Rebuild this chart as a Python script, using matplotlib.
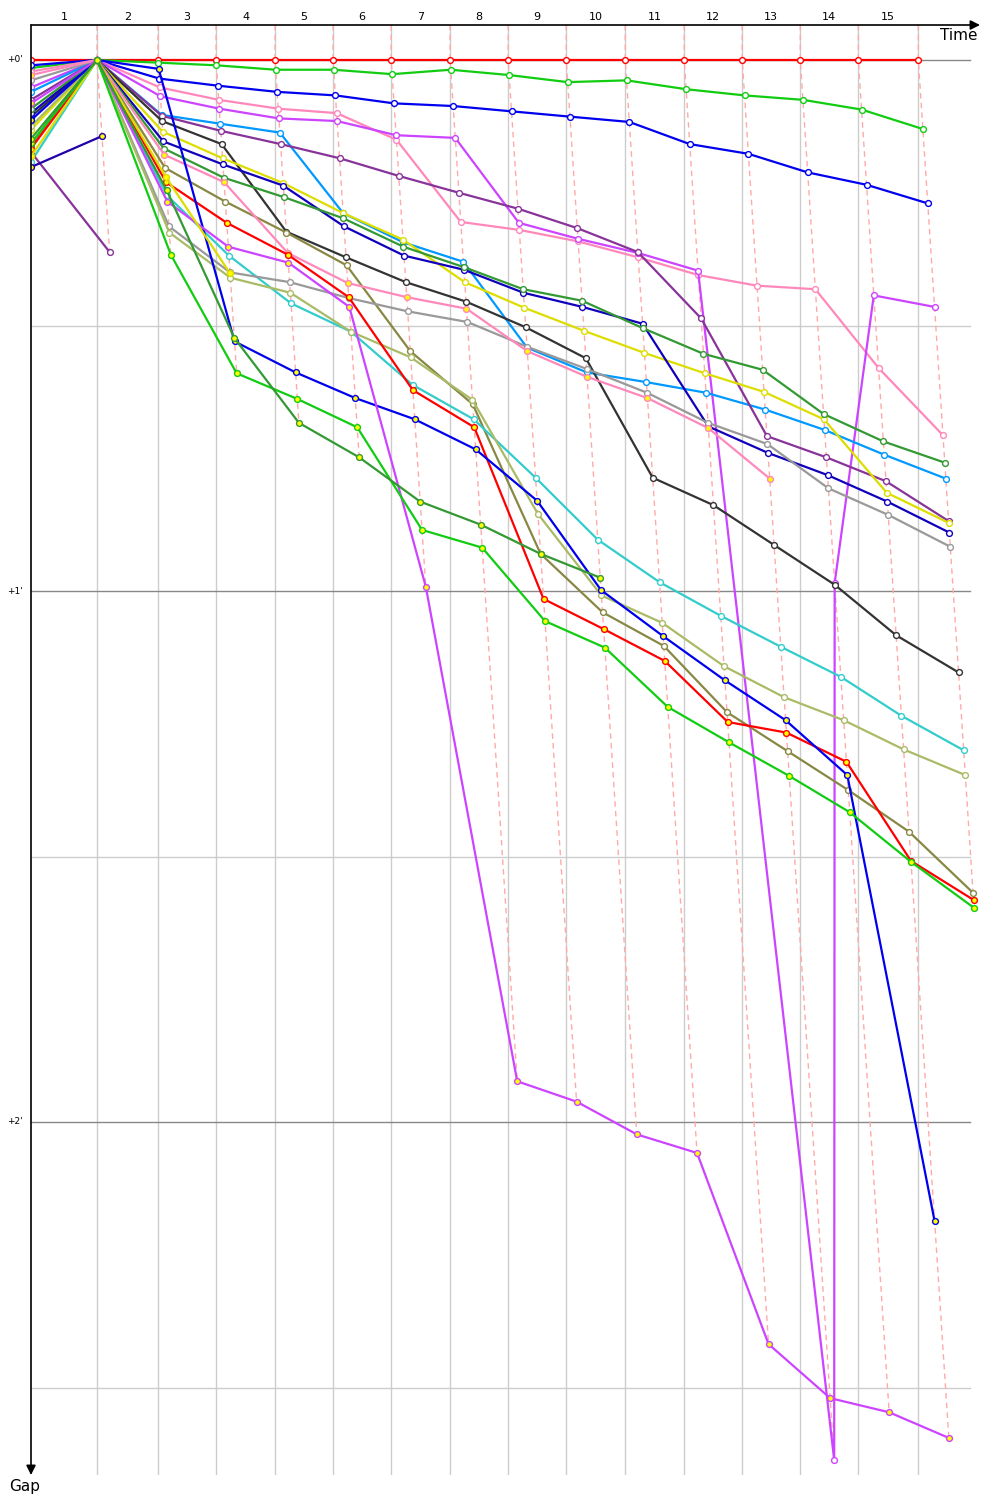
import numpy as np
import matplotlib.pyplot as plt
from matplotlib.transforms import blended_transform_factory

# leader lap times in seconds (laps 1..15)
lap_times = [113.5, 105.0, 99.8, 101.5, 99.8, 99.9, 101.4, 99.8, 99.9, 101.5, 101.4, 99.8, 99.9, 99.8, 103.2]
lap_labels = [str(i) for i in range(1, 16)]
gap_ticks = [0, 60, 120]
gap_tick_labels = ["+0'", "+1'", "+2'"]

# gap to the leader (s): start grid, then end of each lap
gap_red = [0.0] * 16
gap_green = [0.9, 0, 0.3, 0.6, 1.1, 1.1, 1.6, 1.1, 1.7, 2.5, 2.3, 3.3, 4.0, 4.5, 5.6, 7.8]
gap_blue = [0.6, 0, 2.1, 2.9, 3.6, 4.0, 4.9, 5.2, 5.8, 6.4, 7.0, 9.5, 10.6, 12.7, 14.1, 16.2]
gap_pink = [1.3, 0, 3.1, 4.5, 5.5, 6.0, 9.0, 18.3, 19.2, 20.5, 22.3, 24.3, 25.5, 25.9, 34.8, 42.4]
gap_violet = [3.1, 0, 4.1, 5.5, 6.6, 6.9, 8.5, 8.8, 18.4, 20.2, 21.8, 23.8, 158.2, 59.1, 26.6, 27.9]
gap_skyblue = [3.6, 0, 6.2, 7.2, 8.2, 17.3, 20.6, 22.8, 32.5, 35.3, 36.4, 37.6, 39.5, 41.8, 44.6, 47.3]
gap_purple = [4.5, 0, 6.3, 8.0, 9.5, 11.1, 13.1, 15.0, 16.8, 19.0, 21.7, 29.2, 42.5, 44.9, 47.6, 52.1]
gap_black = [6.4, 0, 6.9, 9.5, 19.4, 22.3, 25.1, 27.3, 30.2, 33.7, 47.2, 50.3, 54.8, 59.3, 65.0, 69.2]
gap_yellow = [7.9, 0, 8.1, 11.1, 13.9, 17.3, 20.3, 25.1, 28.0, 30.6, 33.1, 35.4, 37.5, 40.6, 48.9, 52.3]
gap_navy = [6.0, 0, 9.2, 11.8, 14.2, 18.8, 22.1, 23.7, 26.3, 27.9, 29.8, 41.4, 44.4, 46.9, 49.9, 53.4]
gap_forest = [5.5, 0, 10.0, 13.3, 15.5, 17.9, 21.1, 23.4, 25.9, 27.2, 30.3, 33.2, 35.0, 40.0, 43.1, 45.5]
gap_pink2 = [1.7, 0, 10.7, 13.8, 21.8, 25.2, 26.8, 28.1, 32.9, 35.8, 38.2, 41.6, 47.3]
gap_olive = [9.7, 0, 12.2, 16.0, 19.5, 23.2, 32.9, 38.9, 55.8, 62.4, 66.2, 73.7, 78.1, 82.5, 87.2, 94.1]
gap_red2 = [10.0, 0, 13.8, 18.4, 22.0, 26.8, 37.3, 41.5, 60.9, 64.3, 67.9, 74.8, 76.0, 79.3, 90.5, 94.9]
gap_blue2 = [6.8, 0, 1.0, 31.8, 35.3, 38.2, 40.6, 44.0, 49.8, 59.9, 65.1, 70.1, 74.6, 80.8, 131.2]
gap_cyan = [11.5, 0, 15.3, 22.1, 27.5, 30.7, 36.7, 40.6, 47.2, 54.2, 59.0, 62.8, 66.3, 69.7, 74.1, 78.0]
gap_violet2 = [4.9, 0, 16.0, 21.1, 22.9, 27.9, 59.5, 115.4, 117.7, 121.4, 123.5, 145.1, 151.2, 152.8, 155.7]
gap_gray = [2.3, 0, 18.8, 24.0, 25.1, 26.9, 28.4, 29.6, 32.4, 34.9, 37.6, 41.0, 43.4, 48.4, 51.4, 55.0]
gap_khaki = [7.5, 0, 19.5, 24.6, 26.3, 30.7, 33.6, 38.4, 51.3, 60.5, 63.6, 68.5, 72.0, 74.6, 77.9, 80.8]
gap_yellow2 = [10.9, 0, 13.2, 24.1]
gap_green2 = [9.4, 0, 22.0, 35.4, 38.3, 41.5, 53.1, 55.1, 63.4, 66.4, 73.1, 77.1, 80.9, 85.0, 90.6, 95.8]
gap_forest2 = [8.9, 0, 14.7, 31.4, 41.0, 44.9, 49.9, 52.5, 55.8, 58.5]
gap_navy2 = [12.1, 8.6]
gap_purple2 = [10.4, 21.7]

W, Y = 'white', '#ffff00'
drivers = [
    (gap_red, '#ff0000', W), (gap_green, '#11cc11', W), (gap_blue, '#0000ee', W),
    (gap_pink, '#ff88bb', W), (gap_violet, '#cc44ff', W), (gap_skyblue, '#0099ff', W),
    (gap_purple, '#883399', W), (gap_black, '#333333', W), (gap_yellow, '#dddd00', W),
    (gap_navy, '#1100bb', W), (gap_forest, '#339933', W), (gap_olive, '#888844', W),
    (gap_cyan, '#33cccc', W), (gap_gray, '#999999', W), (gap_khaki, '#aabb66', W),
    (gap_purple2, '#883399', W),
    (gap_pink2, '#ff88bb', Y), (gap_red2, '#ff0000', Y), (gap_blue2, '#0000ee', Y),
    (gap_violet2, '#cc44ff', Y), (gap_yellow2, '#dddd00', Y), (gap_green2, '#11cc11', Y),
    (gap_forest2, '#339933', Y), (gap_navy2, '#2200aa', Y),
]

cum = np.concatenate([[0.0], np.cumsum(lap_times)])


def positions(gaps):
    g = np.asarray(gaps, dtype=float)
    x = cum[:len(g)] + g
    x[0] = 0.0  # everyone starts at time zero
    return x, g


fig = plt.figure(figsize=(10, 15), dpi=100)
ax = fig.add_axes([0.031, 1 - 1475 / 1500, 0.949, 1450 / 1500])
ymin, ymax = -35 / 8.85, 1415 / 8.85
ax.set_xlim(0, 949 * 1.72)
ax.set_ylim(ymax, ymin)
for s in ax.spines.values():
    s.set_visible(False)
ax.set_xticks([])
ax.set_yticks([])

# grid
for t in cum[1:]:
    ax.axvline(t, color='#cccccc', lw=1, zorder=0)
for g in [30, 90, 150]:
    ax.axhline(g, xmax=0.989, color='#cccccc', lw=1, zorder=0)
for g in gap_ticks:
    ax.axhline(g, xmax=0.989, color='#888888', lw=1, zorder=0)

# lap lines
for k in range(1, len(cum)):
    pts = []
    for gaps, _, _ in drivers:
        if len(gaps) > k:
            pts.append((cum[k] + gaps[k], gaps[k]))
    pts.sort(key=lambda p: p[1])
    xs = [cum[k]] + [p[0] for p in pts]
    ys = [ymin] + [p[1] for p in pts]
    ax.plot(xs, ys, color='#ffaaaa', lw=1, ls=(0, (4, 3)), zorder=1)

for gaps, color, face in drivers:
    x, g = positions(gaps)
    ax.plot(x, g, '-o', color=color, lw=1.6, ms=4.2, mfc=face, mec=color, mew=1, zorder=3)

# axes arrows
ax.annotate('', xy=(1.0, 1.0), xytext=(0, 1.0), xycoords='axes fraction',
            arrowprops=dict(arrowstyle='-|>', color='black', lw=1.2, mutation_scale=14,
                            shrinkA=0, shrinkB=0))
ax.annotate('', xy=(0, 0), xytext=(0, 1.0), xycoords='axes fraction',
            arrowprops=dict(arrowstyle='-|>', color='black', lw=1.2, mutation_scale=14,
                            shrinkA=0, shrinkB=0))

top = blended_transform_factory(ax.transData, ax.transAxes)
for i, lab in enumerate(lap_labels):
    ax.text((cum[i] + cum[i + 1]) / 2, 1.0055, lab, transform=top,
            ha='center', va='center', fontsize=8)

left = blended_transform_factory(ax.transAxes, ax.transData)
for g, lab in zip(gap_ticks, gap_tick_labels):
    ax.text(-0.009, g, lab, transform=left, ha='right', va='center', fontsize=6.5)

fig.text(0.977, 1 - 35 / 1500, 'Time', ha='right', va='center', fontsize=11)
fig.text(0.025, 1 - 1486 / 1500, 'Gap', ha='center', va='center', fontsize=11)

fig.savefig('out.png', dpi=100)
